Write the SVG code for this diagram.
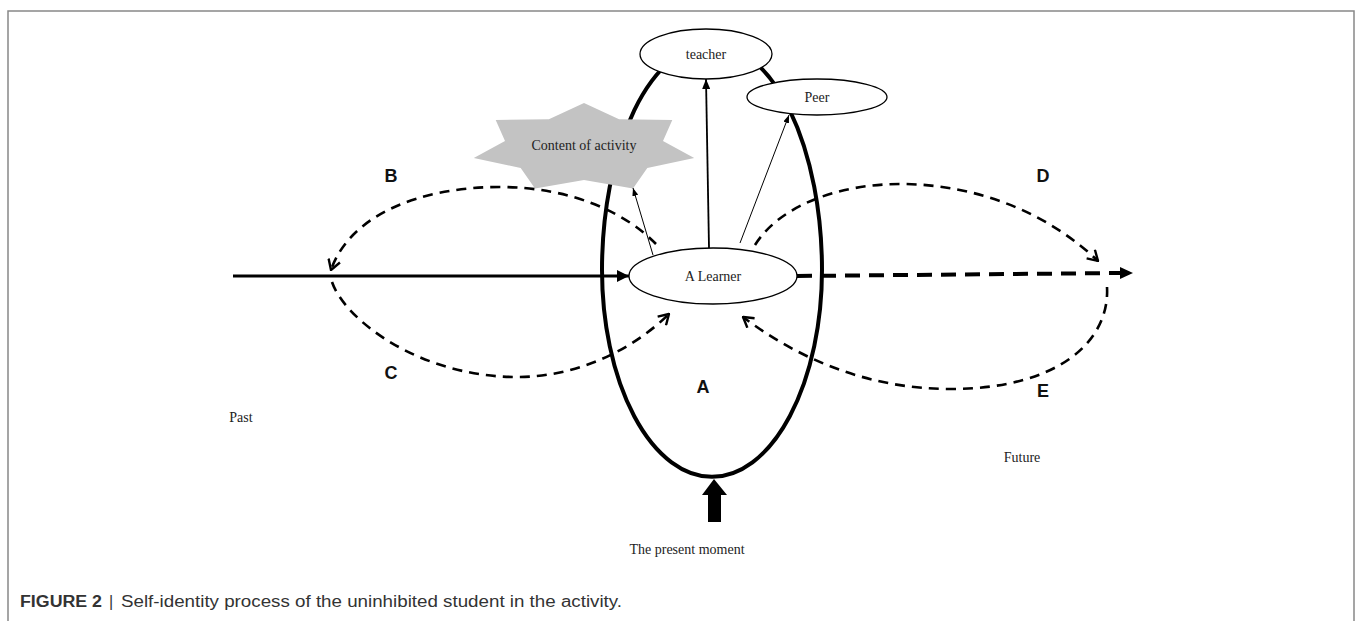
<svg xmlns="http://www.w3.org/2000/svg" width="1356" height="621" viewBox="0 0 1356 621">
  <style>
    .serif { font-family: "Liberation Serif", "Times New Roman", serif; font-size: 14px; fill: #222; text-anchor: middle; }
    .lbl { font-family: "Liberation Sans", Arial, sans-serif; font-size: 18px; font-weight: bold; fill: #111; text-anchor: middle; }
    .node { fill: #fff; stroke: #000; stroke-width: 1.3; }
    .dash { fill: none; stroke: #000; stroke-width: 2.6; stroke-dasharray: 10 7; }
    .thin { fill: none; stroke: #000; stroke-width: 1; }
    .cap { font-family: "Liberation Sans Narrow", "Liberation Sans", Arial, sans-serif; font-size: 16px; fill: #333; }
  </style>
  <defs>
    <marker id="tri" markerUnits="userSpaceOnUse" viewBox="0 0 12 12" refX="12" refY="6" markerWidth="12" markerHeight="12" orient="auto">
      <path d="M0,0 L12,6 L0,12 Z" fill="#000"/>
    </marker>
    <marker id="triS" markerUnits="userSpaceOnUse" viewBox="0 0 10 8" refX="10" refY="4" markerWidth="10" markerHeight="8" orient="auto">
      <path d="M0,0 L10,4 L0,8 Z" fill="#000"/>
    </marker>
    <marker id="triXS" markerUnits="userSpaceOnUse" viewBox="0 0 8 6" refX="8" refY="3" markerWidth="8" markerHeight="6" orient="auto">
      <path d="M0,0 L8,3 L0,6 Z" fill="#000"/>
    </marker>
    <marker id="chev" markerUnits="userSpaceOnUse" viewBox="0 0 12 14" refX="11" refY="7" markerWidth="12" markerHeight="14" orient="auto">
      <path d="M1,1 L11,7 L1,13" fill="none" stroke="#000" stroke-width="2.4"/>
    </marker>
  </defs>

  <!-- frame -->
  <g id="frame" fill="none" stroke="#888" stroke-width="1.5">
    <path d="M8,621 L8,11 L1354,11 L1354,621"/>
  </g>

  <!-- present moment boundary -->
  <g id="present-ellipse">
    <path d="M602,270 A110,226 0 0 1 822,270 A110,207 0 0 1 602,270 Z" fill="none" stroke="#000" stroke-width="4"/>
  </g>

  <g id="content-of-activity">
    <polygon points="584,103 619.1,119.2 672.3,119.9 663,140.9 694.2,158 647.3,168 633,188.5 584,180 535,188.5 520.7,168 473.8,158 505,140.9 495.7,119.9 548.9,119.2" fill="#c3c3c3"/>
    <text class="serif" x="584" y="150">Content of activity</text>
  </g>

  <g id="connectors">
    <line x1="233" y1="276" x2="629" y2="276" stroke="#000" stroke-width="3.2" marker-end="url(#tri)"/>
    <line x1="797" y1="276" x2="1120" y2="273" stroke="#000" stroke-width="4" stroke-dasharray="15 9"/>
    <path d="M1120,267 L1133,273 L1120,279 Z" fill="#000"/>
    <line x1="709" y1="248" x2="706" y2="79" stroke="#000" stroke-width="1.8" marker-end="url(#triS)"/>
    <line x1="740" y1="243" x2="789" y2="115" class="thin" marker-end="url(#triXS)"/>
    <line x1="653" y1="255" x2="633" y2="188" class="thin" marker-end="url(#triXS)"/>
    <path class="dash" d="M656,244 C625,212 570,187 500,187 C420,187 350,215 331,270" marker-end="url(#chev)"/>
    <path class="dash" d="M332,282 C345,320 420,377 517,377 C575,377 630,352 669,314" marker-end="url(#chev)"/>
    <path class="dash" d="M755,245 C780,205 840,184 900,184 C980,184 1050,215 1098,261" marker-end="url(#chev)"/>
    <path class="dash" d="M1107,287 C1110,340 1060,389 950,389 C870,389 800,360 743,317" marker-end="url(#chev)"/>
  </g>

  <g id="teacher">
    <ellipse class="node" cx="706" cy="54" rx="66" ry="25"/>
    <text class="serif" x="706" y="59">teacher</text>
  </g>
  <g id="peer">
    <ellipse class="node" cx="817" cy="97" rx="70" ry="18"/>
    <text class="serif" x="817" y="102">Peer</text>
  </g>
  <g id="learner">
    <ellipse class="node" cx="713" cy="276" rx="84" ry="28"/>
    <text class="serif" x="713" y="281">A Learner</text>
  </g>

  <g id="present-arrow">
    <path d="M714,479 L727,495 L721,495 L721,522 L708,522 L708,495 L702,495 Z" fill="#000"/>
    <text class="serif" x="687" y="554">The present moment</text>
  </g>

  <g id="labels">
    <text class="lbl" x="391" y="182">B</text>
    <text class="lbl" x="391" y="379">C</text>
    <text class="lbl" x="1043" y="182">D</text>
    <text class="lbl" x="1043" y="397">E</text>
    <text class="lbl" x="703" y="393">A</text>
    <text class="serif" x="241" y="422">Past</text>
    <text class="serif" x="1022" y="462">Future</text>
  </g>

  <g id="caption">
    <text class="cap" x="20" y="607" font-weight="bold" fill="#222" textLength="82" lengthAdjust="spacingAndGlyphs">FIGURE 2</text>
    <text class="cap" x="109" y="607" fill="#555">|</text>
    <text class="cap" x="121" y="607" textLength="501" lengthAdjust="spacingAndGlyphs">Self-identity process of the uninhibited student in the activity.</text>
  </g>
</svg>
